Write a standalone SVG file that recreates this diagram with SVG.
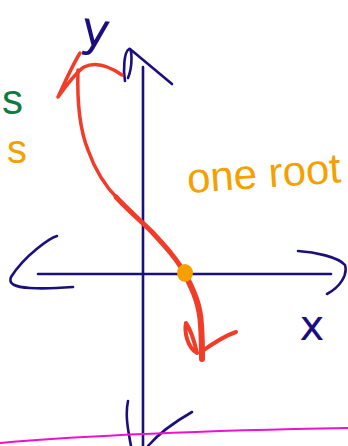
<svg xmlns="http://www.w3.org/2000/svg" width="348" height="446" viewBox="0 0 348 446">
<style>
.ax{fill:none;stroke:#1b0f7e;stroke-width:2.6;stroke-linecap:round;stroke-linejoin:round}
.red{fill:none;stroke:#f03c28;stroke-linecap:round;stroke-linejoin:round}
.lbl{font-family:"DejaVu Sans",sans-serif;fill:#1b0f7e}
.org{font-family:"Liberation Sans",sans-serif;fill:#f5a000}
</style>
<rect width="348" height="446" fill="#fff"/>
<g id="connectors">
<path class="ax" d="M143,67 L143,446"/>
<path class="ax" d="M38,274 L331,274"/>
<path class="ax" d="M125,81 C123,70 124,52 129,49 C132,47 133,66 128,78 M130,49 L172,84"/>
<path class="ax" d="M57,236 C50,238 25,255 11,277 C8,284 15,287 30,288 C45,289 60,288 73,287"/>
<path class="ax" d="M298,251 C315,252 338,257 345,265 C348,275 340,287 327,294"/>
<path class="ax" d="M128,401 C125,415 128,430 131,446 M192,412 C178,420 160,432 148,446"/>
</g>
<g id="curve">
<path class="red" stroke-width="3.5" d="M122,75 C112,68 98,60 84,67 C76,72 66,86 58,97 C65,82 72,66 80,53"/>
<path class="red" stroke-width="3.5" d="M78,70 C77,100 80,130 88,150 C94,167 104,185 118,199"/>
<path class="red" stroke-width="5" d="M116,197 C128,210 140,220 152,232 C165,246 178,260 186,276"/>
<path class="red" stroke-width="6" d="M186,276 C194,292 200,305 201,325 C202,340 202,350 202,359"/>
<path class="red" stroke-width="4" d="M186,323 C184,333 188,348 197,353 C194,340 191,330 186,323 M201,352 C212,344 224,336 236,332"/>
<ellipse cx="185" cy="273" rx="8" ry="9" fill="#f5a000"/>
</g>
<g id="labels">
<text class="lbl" x="95" y="46" font-size="48" text-anchor="middle" transform="rotate(8 95 35)">y</text>
<text class="lbl" x="312" y="340" font-size="42" text-anchor="middle">x</text>
<text class="org" x="188" y="193" font-size="42" transform="rotate(-4 188 193)">one root</text>
<text x="2" y="114" font-size="42" font-family="Liberation Sans,sans-serif" fill="#0f7a3e">s</text>
<text x="7" y="163" font-size="40" font-family="Liberation Sans,sans-serif" fill="#f5a000">s</text>
</g>
<path d="M0,443 C80,436 174,431 348,428" fill="none" stroke="#f010d0" stroke-width="2"/>
</svg>
